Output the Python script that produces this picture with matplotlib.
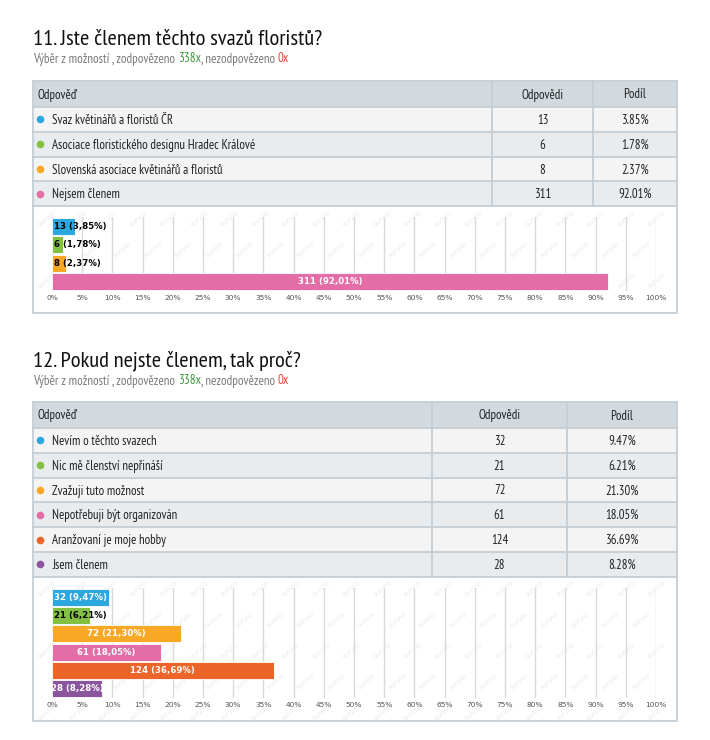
import matplotlib
matplotlib.use("Agg")
import matplotlib.pyplot as plt
from matplotlib import font_manager
from matplotlib.patches import Rectangle

# data
q1_title = "11. Jste členem těchto svazů floristů?"
q1_labels = ["Svaz květinářů a floristů ČR",
             "Asociace floristického designu Hradec Králové",
             "Slovenská asociace květinářů a floristů",
             "Nejsem členem"]
q1_counts = [13, 6, 8, 311]
q1_shares = [3.85, 1.78, 2.37, 92.01]

q2_title = "12. Pokud nejste členem, tak proč?"
q2_labels = ["Nevím o těchto svazech",
             "Nic mě členství nepřináší",
             "Zvažuji tuto možnost",
             "Nepotřebuji být organizován",
             "Aranžovaní je moje hobby",
             "Jsem členem"]
q2_counts = [32, 21, 72, 61, 124, 28]
q2_shares = [9.47, 6.21, 21.30, 18.05, 36.69, 8.28]

answered = "338x"
unanswered = "0x"
ticks = list(range(0, 101, 5))

q1_colors = ["#2ca7e0", "#84c041", "#f8a825", "#e46ca7"]
q2_colors = ["#2ca7e0", "#84c041", "#f8a825", "#e46ca7", "#ec6428", "#8b559e"]

# fonts: narrow sans if one is there
fonts = font_manager.fontManager.ttflist
installed = {f.name for f in fonts}
narrow = dict(family="DejaVu Sans", stretch="condensed")
for name in ["PT Sans Narrow", "Liberation Sans Narrow", "Roboto Condensed", "Archivo Narrow"]:
    if name in installed:
        narrow = dict(family=name)
        break
has_italic = any(f.name == narrow["family"] and f.style != "normal" for f in fonts)
sub_font = dict(narrow, style="italic") if has_italic else dict(narrow)

W, H = 710, 740
fig = plt.figure(figsize=(W / 100, H / 100), dpi=100)
fig.patch.set_facecolor("white")
base = fig.add_axes([0, 0, 1, 1])
base.set_xlim(0, W)
base.set_ylim(H, 0)
base.axis("off")

LEFT, RIGHT = 33, 677
BORDER = "#c4ced4"
FS = 9.2


def subtitle(y):
    t = base.text(LEFT, y, "Výběr z možností , zodpovězeno ", color="#7a7a7a",
                  fontsize=9.4, va="bottom", **sub_font)
    parts = [(answered, "#3a9a3a"), (", nezodpovězeno ", "#7a7a7a"), (unanswered, "#e8432e")]
    for txt, col in parts:
        t = base.annotate(txt, xy=(1, 0), xycoords=t, va="bottom", ha="left",
                          color=col, fontsize=9.4, **sub_font)


def table(top, labels, counts, shares, colors, c1, c2):
    hh, rh = 26, 24.8
    n = len(labels)
    bottom = top + hh + n * rh
    base.add_patch(Rectangle((LEFT, top), RIGHT - LEFT, hh, fc="#d3dadf", ec="none"))
    for i in range(n):
        y = top + hh + i * rh
        fc = "#f4f4f4" if i % 2 == 0 else "#e8ecee"
        base.add_patch(Rectangle((LEFT, y), RIGHT - LEFT, rh, fc=fc, ec="none"))
    for i in range(n + 2):
        y = top if i == 0 else top + hh + (i - 1) * rh
        base.plot([LEFT, RIGHT], [y, y], color=BORDER, lw=1.3)
    for x in (LEFT, c1, c2, RIGHT):
        base.plot([x, x], [top, bottom], color=BORDER, lw=1.3)
    ty = top + hh / 2 + 1
    base.text(LEFT + 4, ty, "Odpověď", fontsize=FS, va="center", color="#222", **narrow)
    base.text((c1 + c2) / 2, ty, "Odpovědi", fontsize=FS, va="center", ha="center", color="#222", **narrow)
    base.text((c2 + RIGHT) / 2, ty, "Podíl", fontsize=FS, va="center", ha="center", color="#222", **narrow)
    for i in range(n):
        yc = top + hh + i * rh + rh / 2 + 1
        base.plot(LEFT + 7, yc - 1, "o", color=colors[i], ms=5.5, mec="none")
        base.text(LEFT + 19, yc, labels[i], fontsize=FS, va="center", color="#222", **narrow)
        base.text((c1 + c2) / 2, yc, str(counts[i]), fontsize=FS, va="center", ha="center", color="#222", **narrow)
        base.text((c2 + RIGHT) / 2, yc, f"{shares[i]:.2f}%", fontsize=FS, va="center", ha="center",
                  color="#222", **narrow)
    return bottom


def panel(top, bottom):
    base.plot([LEFT, LEFT, RIGHT, RIGHT], [top, bottom, bottom, top], color=BORDER, lw=1.3)
    # faint watermark
    y = top + 12
    row = 0
    while y < bottom - 4:
        x = LEFT + 14 + (row % 2) * 15
        while x < RIGHT - 8:
            base.text(x, y, "survio", rotation=40, fontsize=5, color="#ebebeb",
                      ha="center", va="center")
            x += 30.5
        y += 31
        row += 1


def bars(top, bottom, counts, shares, colors):
    ax = fig.add_axes([52 / W, 1 - bottom / H, 604 / W, (bottom - top) / H])
    ax.set_facecolor("none")
    n = len(counts)
    pos = list(range(n))
    ax.barh(pos, shares, height=0.93, color=colors, edgecolor="white", linewidth=0.6, zorder=3)
    ax.set_xlim(0, 100)
    ax.set_ylim(n - 0.5, -0.5)
    ax.set_xticks(ticks)
    ax.set_xticklabels([f"{t}%" for t in ticks], fontsize=5.4, color="#555")
    ax.tick_params(axis="x", length=0, pad=3)
    ax.set_yticks([])
    for s in ax.spines.values():
        s.set_visible(False)
    ax.grid(axis="x", color="#d9d9d9", lw=1)
    ax.set_axisbelow(True)
    fig.canvas.draw()
    r = fig.canvas.get_renderer()
    px_per_unit = 604 / 100
    for i in range(n):
        lab = f"{counts[i]} ({shares[i]:.2f}%)".replace(".", ",")
        t = ax.text(shares[i] / 2, i, lab, ha="center", va="center", fontsize=6.2,
                    fontweight="bold", color="white", zorder=4)
        tw = t.get_window_extent(r).width
        if tw > shares[i] * px_per_unit + 3:
            t.set_x(0.35)
            t.set_ha("left")
            t.set_color("black")
    return ax


# section 1
base.text(LEFT, 45, q1_title, fontsize=16.2, color="#111", va="baseline", **narrow)
subtitle(65.5)
b1 = table(81, q1_labels, q1_counts, q1_shares, q1_colors, 492, 593)
panel(b1, 313)
bars(217, 291, q1_counts, q1_shares, q1_colors)

# section 2
base.text(LEFT, 366, q2_title, fontsize=16.2, color="#111", va="baseline", **narrow)
subtitle(387.5)
b2 = table(402, q2_labels, q2_counts, q2_shares, q2_colors, 432, 567)
panel(b2, 721)
bars(588, 698, q2_counts, q2_shares, q2_colors)

fig.savefig("out.png", dpi=100, facecolor="white")
